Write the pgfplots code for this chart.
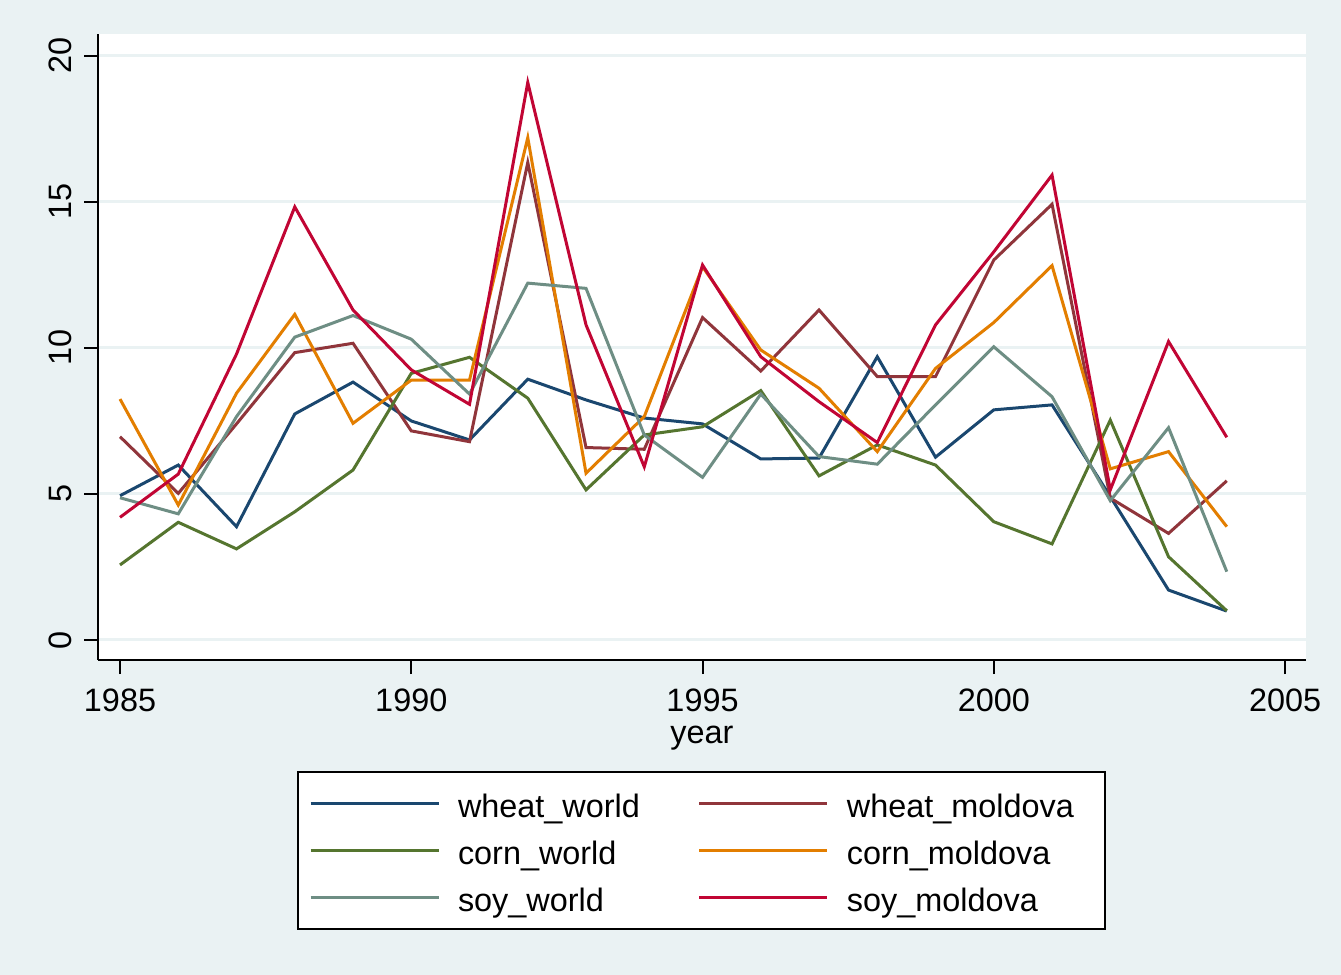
\documentclass[border=0pt]{standalone}
\usepackage{pgfplots}
\pgfplotsset{compat=1.18}
\usepackage{fontspec}
\setmainfont{Liberation Sans}
\definecolor{bgc}{RGB}{234,242,243}
\definecolor{gridc}{RGB}{234,242,243}
\definecolor{snavy}{RGB}{26,71,111}
\definecolor{smaroon}{RGB}{144,53,59}
\definecolor{sgreen}{RGB}{85,117,47}
\definecolor{sorange}{RGB}{227,126,0}
\definecolor{steal}{RGB}{110,142,132}
\definecolor{scran}{RGB}{193,5,52}
\begin{document}
\begin{tikzpicture}
\path[use as bounding box, fill=bgc] (0,0) rectangle (1341bp,975bp);
\begin{axis}[
  at={(98bp,315bp)}, anchor=south west,
  scale only axis, width=1208bp, height=626bp,
  xmin=1984.622, xmax=2005.36, ymin=-0.685, ymax=20.75,
  axis lines=left,
  axis line style={-, black, line width=2.2bp},
  axis background/.style={fill=white},
  xtick={1985,1990,1995,2000,2005},
  ytick={0,5,10,15,20},
  ymajorgrids,
  major grid style={color=gridc, line width=3bp},
  tick align=outside,
  major tick length=14bp,
  tick style={black, line width=2bp},
  /pgf/number format/assume math mode=true,
  /pgf/number format/1000 sep={},
  tick label style={font=\fontsize{32.4bp}{38bp}\selectfont, inner sep=0pt},
  yticklabel style={rotate=90, anchor=south},
  xticklabel style={anchor=north},
  xticklabel shift=15bp,
  yticklabel shift=12bp,
  xlabel={year},
  xlabel style={at={(rel axis cs:0.5,0)}, anchor=base, yshift=-83bp, inner sep=0pt, font=\fontsize{32.4bp}{38bp}\selectfont},
  legend columns=2,
  legend cell align=left,
  legend image code/.code={\draw[#1, line width=3bp] (0bp,0bp) -- (128bp,0bp);},
  legend style={
    at={(0,0)}, anchor=north west, xshift=199bp, yshift=-110.5bp,
    draw=black, line width=2bp, fill=white,
    inner xsep=11bp, inner ysep=8.5bp,
    font=\fontsize{32.4bp}{38bp}\selectfont,
    nodes={inner sep=0pt, text height=37bp, text depth=9bp},
    row sep=1bp,
    column sep=18bp,
    /tikz/every even column/.append style={column sep=58bp},
  },
  every axis plot/.append style={line width=3bp, line join=miter},
]
\addplot[snavy] coordinates {(1985,4.94) (1986,5.99) (1987,3.88) (1988,7.74) (1989,8.83) (1990,7.5) (1991,6.85) (1992,8.93) (1993,8.22) (1994,7.6) (1995,7.4) (1996,6.2) (1997,6.23) (1998,9.70) (1999,6.26) (2000,7.88) (2001,8.05) (2002,4.91) (2003,1.71) (2004,0.99)};
\addlegendentry{wheat\_world}
\addplot[smaroon] coordinates {(1985,6.96) (1986,5.02) (1987,7.4) (1988,9.84) (1989,10.16) (1990,7.16) (1991,6.79) (1992,16.35) (1993,6.59) (1994,6.53) (1995,11.04) (1996,9.21) (1997,11.3) (1998,9.02) (1999,9.02) (2000,13.01) (2001,14.92) (2002,4.86) (2003,3.65) (2004,5.45)};
\addlegendentry{wheat\_moldova\hspace*{20bp}}
\addplot[sgreen] coordinates {(1985,2.57) (1986,4.03) (1987,3.12) (1988,4.39) (1989,5.82) (1990,9.13) (1991,9.68) (1992,8.28) (1993,5.14) (1994,7.02) (1995,7.3) (1996,8.54) (1997,5.62) (1998,6.68) (1999,5.99) (2000,4.05) (2001,3.29) (2002,7.53) (2003,2.85) (2004,1.0)};
\addlegendentry{corn\_world}
\addplot[sorange] coordinates {(1985,8.25) (1986,4.62) (1987,8.45) (1988,11.15) (1989,7.42) (1990,8.9) (1991,8.9) (1992,17.2) (1993,5.71) (1994,7.65) (1995,12.78) (1996,9.93) (1997,8.62) (1998,6.45) (1999,9.3) (2000,10.87) (2001,12.82) (2002,5.86) (2003,6.45) (2004,3.88)};
\addlegendentry{corn\_moldova}
\addplot[steal] coordinates {(1985,4.87) (1986,4.32) (1987,7.65) (1988,10.37) (1989,11.11) (1990,10.3) (1991,8.42) (1992,12.22) (1993,12.04) (1994,7.02) (1995,5.57) (1996,8.42) (1997,6.28) (1998,6.02) (1999,8.05) (2000,10.04) (2001,8.33) (2002,4.77) (2003,7.27) (2004,2.34)};
\addlegendentry{soy\_world}
\addplot[scran] coordinates {(1985,4.2) (1986,5.68) (1987,9.79) (1988,14.83) (1989,11.3) (1990,9.25) (1991,8.07) (1992,19.09) (1993,10.79) (1994,5.93) (1995,12.84) (1996,9.7) (1997,8.16) (1998,6.76) (1999,10.79) (2000,13.29) (2001,15.92) (2002,5.14) (2003,10.22) (2004,6.94)};
\addlegendentry{soy\_moldova}
\end{axis}
\end{tikzpicture}
\end{document}
